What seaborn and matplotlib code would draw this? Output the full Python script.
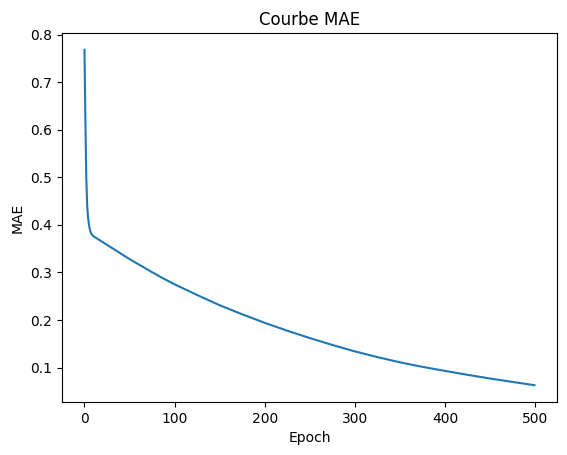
import numpy as np
import pandas as pd
import matplotlib as mpl
from matplotlib import pyplot as plt
import seaborn as sb

# Values
epochs = [0, 1, 2, 3, 4, 5, 6, 7, 8, 10, 15, 25, 35, 50, 62, 75, 87, 100,
          125, 150, 175, 200, 225, 250, 275, 300, 325, 350, 375, 400, 425, 450, 475, 499]
mae = [0.768, 0.62, 0.50, 0.44, 0.415, 0.400, 0.390, 0.384, 0.380, 0.376, 0.370,
       0.358, 0.346, 0.328, 0.3148, 0.3005, 0.2878, 0.275,
       0.2525, 0.231, 0.2120, 0.194, 0.1775, 0.162, 0.1475, 0.134, 0.1220, 0.111,
       0.1015, 0.093, 0.0848, 0.077, 0.0698, 0.063]

data = pd.DataFrame({"Epoch": epochs, "MAE": mae})

fig, ax = plt.subplots(figsize=(5.67, 4.55), dpi=100)
fig.subplots_adjust(left=0.1093, right=0.9824, top=0.9275, bottom=0.1165)

sb.lineplot(data=data, x="Epoch", y="MAE", ax=ax, color="#1f77b4", linewidth=1.5)

ax.set_title("Courbe MAE")
ax.set_xlabel("Epoch")
ax.set_ylabel("MAE")

plt.savefig("out.png", dpi=100)
